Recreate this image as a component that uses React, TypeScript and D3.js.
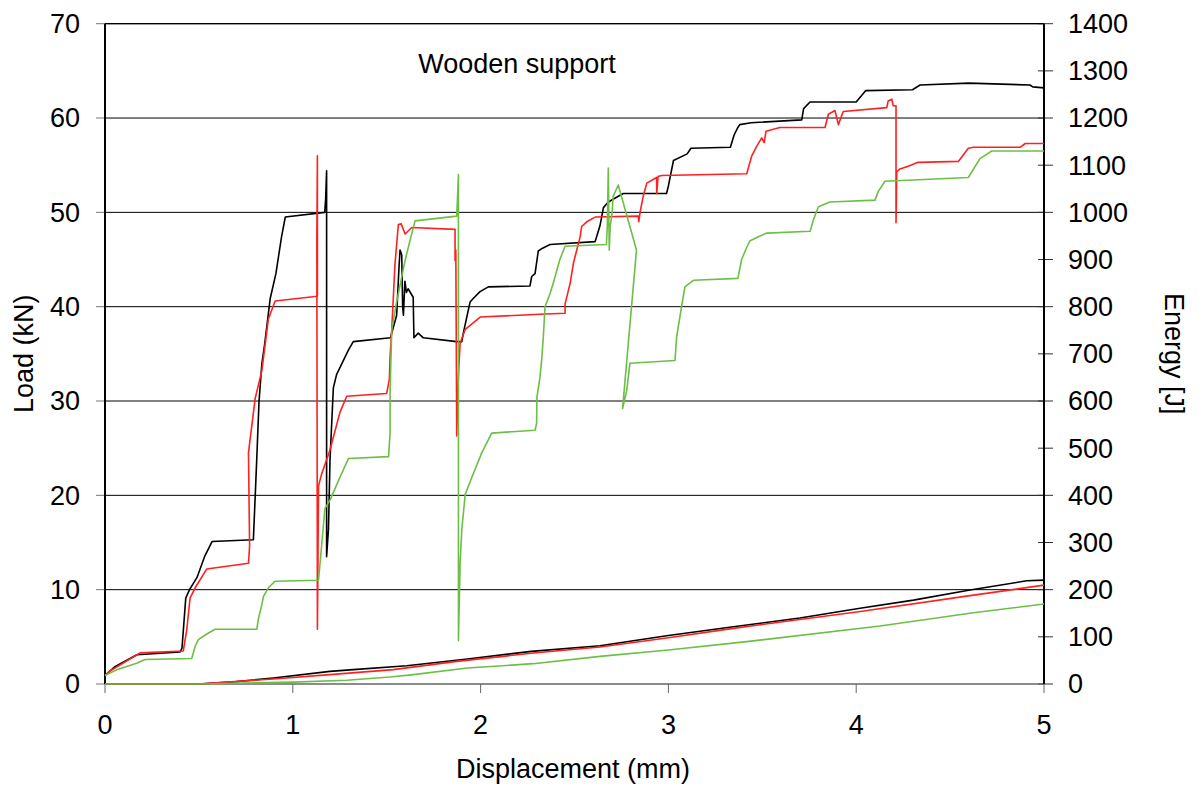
import React, { useRef, useEffect } from 'react';
import * as d3 from 'd3';

type Pt = [number, number];

// displacement (mm), load (kN)
const blackLoad: Pt[] = [
  [0, 0.9], [0.05, 1.8], [0.17, 3.1], [0.4, 3.4], [0.41, 3.8], [0.43, 9.1], [0.45, 10.0], [0.49, 11.3],
  [0.53, 13.5], [0.57, 15.1], [0.79, 15.3], [0.8, 20], [0.81, 24.8], [0.82, 29.9], [0.835, 33.9], [0.85, 36],
  [0.88, 40.9], [0.91, 43.5], [0.94, 47.4], [0.96, 49.5], [1.17, 50.0], [1.175, 51.5], [1.18, 54.4], [1.18, 13.5],
  [1.19, 16.4], [1.198, 23.7], [1.216, 31.4], [1.233, 32.8], [1.26, 33.9], [1.296, 35.4], [1.322, 36.3], [1.52, 36.7],
  [1.553, 39.1], [1.565, 44], [1.571, 46.0], [1.58, 45.5], [1.585, 40], [1.589, 39.1], [1.597, 42.7], [1.605, 41.5],
  [1.614, 41.9], [1.641, 41.0], [1.645, 36.7], [1.668, 37.2], [1.695, 36.7], [1.873, 36.3], [1.9, 36.3], [1.908, 37.2],
  [1.944, 40.5], [1.962, 40.9], [1.997, 41.6], [2.041, 42.1], [2.263, 42.2], [2.272, 43.2], [2.29, 43.5], [2.307, 45.9],
  [2.33, 46.2], [2.37, 46.6], [2.61, 46.9], [2.636, 48.6], [2.654, 50.5], [2.68, 51.1], [2.724, 51.6], [2.76, 52.0],
  [2.99, 52.0], [3.0, 52.8], [3.027, 55.5], [3.1, 56.2], [3.12, 56.8], [3.33, 56.9], [3.35, 58.2], [3.37, 59.0],
  [3.38, 59.3], [3.44, 59.5], [3.71, 59.8], [3.72, 61.0], [3.754, 61.7], [4.0, 61.7], [4.05, 62.9], [4.3, 63.0],
  [4.34, 63.5], [4.6, 63.7], [4.925, 63.5], [4.94, 63.3], [5.0, 63.2],
];

const redLoad: Pt[] = [
  [0, 0.9], [0.02, 1.3], [0.187, 3.3], [0.417, 3.5], [0.435, 5.7], [0.453, 9.1], [0.48, 10.2], [0.542, 12.2],
  [0.764, 12.8], [0.77, 14.6], [0.764, 24.5], [0.77, 25.5], [0.8, 30.3], [0.835, 33.2], [0.87, 38.7], [0.906, 40.6],
  [1.131, 41.1], [1.131, 56], [1.128, 47], [1.131, 5.8], [1.137, 21], [1.154, 22.3], [1.198, 24.8], [1.251, 28.8],
  [1.287, 30.5], [1.5, 30.8], [1.514, 32.3], [1.518, 34.7], [1.527, 37.6], [1.544, 44.5], [1.562, 48.7], [1.577, 48.8],
  [1.598, 47.7], [1.633, 48.4], [1.864, 48.2], [1.864, 44.9], [1.868, 46], [1.873, 26.3], [1.882, 32.8], [1.891, 36.1],
  [1.918, 37.6], [1.998, 38.9], [2.317, 39.2], [2.45, 39.3], [2.45, 40.3], [2.477, 42.5], [2.494, 44.6], [2.53, 47.4],
  [2.538, 48.5], [2.565, 49.0], [2.61, 49.5], [2.84, 49.6], [2.842, 49.0], [2.85, 50.1], [2.866, 51.7], [2.885, 53.1],
  [2.937, 53.7], [2.938, 52], [2.945, 53.8], [2.964, 53.9], [3.417, 54.1], [3.444, 56.0], [3.47, 57.0], [3.497, 57.9],
  [3.51, 57.4], [3.52, 58.6], [3.594, 59.0], [3.834, 59.0], [3.852, 60.4], [3.887, 60.8], [3.905, 59.3], [3.931, 60.7],
  [4.163, 61.1], [4.17, 61.8], [4.19, 62.0], [4.197, 61.3], [4.212, 61.3], [4.212, 48.9], [4.216, 54.3], [4.233, 54.6],
  [4.277, 54.9], [4.33, 55.3], [4.544, 55.4], [4.597, 56.8], [4.624, 56.9], [4.873, 56.9], [4.9, 57.3], [5.0, 57.3],
];

const greenLoad: Pt[] = [
  [0, 0.9], [0.062, 1.5], [0.169, 2.2], [0.213, 2.6], [0.462, 2.7], [0.48, 4.0], [0.497, 4.7], [0.542, 5.3],
  [0.586, 5.8], [0.808, 5.8], [0.817, 6.9], [0.835, 8.4], [0.844, 9.3], [0.87, 10.2], [0.906, 10.9], [1.137, 11.0],
  [1.155, 15.0], [1.171, 18.6], [1.198, 19.5], [1.251, 21.9], [1.296, 23.9], [1.51, 24.1], [1.518, 26.6], [1.518, 31.0],
  [1.527, 37.6], [1.553, 40.5], [1.598, 44.9], [1.625, 47.1], [1.651, 49.1], [1.873, 49.6], [1.882, 54.0], [1.882, 4.6],
  [1.891, 12.8], [1.9, 16.4], [1.918, 20.1], [1.953, 21.9], [2.006, 24.5], [2.059, 26.6], [2.29, 26.9], [2.298, 27.6],
  [2.3, 30.4], [2.316, 32.5], [2.325, 34.3], [2.334, 36.8], [2.343, 40.0], [2.37, 41.4], [2.387, 42.5], [2.422, 45.0],
  [2.45, 46.4], [2.67, 46.6], [2.675, 48.7], [2.68, 54.7], [2.685, 46.0], [2.69, 48.5], [2.7, 49.9], [2.706, 51.7],
  [2.733, 52.9], [2.83, 46.0], [2.756, 29.2], [2.778, 31.1], [2.795, 34.0], [3.035, 34.3], [3.044, 36.8], [3.07, 40.0],
  [3.088, 42.1], [3.133, 42.8], [3.37, 43.0], [3.39, 45.0], [3.417, 46.3], [3.435, 47.0], [3.488, 47.5], [3.524, 47.8],
  [3.755, 48.0], [3.772, 49.2], [3.799, 50.6], [3.86, 51.1], [4.1, 51.3], [4.117, 52.2], [4.153, 53.3], [4.597, 53.7],
  [4.659, 55.7], [4.722, 56.5], [5.0, 56.5],
];

// displacement (mm), energy (J)
const blackEnergy: Pt[] = [
  [0, 0], [0.5, 0], [0.7, 5], [0.896, 12.7], [1.198, 26.8], [1.322, 30.4], [1.607, 38.8], [1.93, 52.9],
  [2.27, 69.2], [2.636, 81.2], [3.0, 103], [3.346, 121.4], [3.7, 140], [4.012, 160.2], [4.305, 177.9],
  [4.606, 199.2], [4.908, 218.9], [5.0, 220.3],
];
const redEnergy: Pt[] = [
  [0, 0], [0.5, 0], [0.896, 10.6], [1.198, 19.8], [1.535, 30.4], [1.873, 48.0], [2.28, 65.6], [2.636, 78.4],
  [3.0, 98], [3.346, 118], [4.012, 153.2], [4.588, 186.4], [5.0, 209.6],
];
const greenEnergy: Pt[] = [
  [0, 0], [0.5, 0], [1.0, 4], [1.287, 7.8], [1.518, 14.8], [1.642, 19.8], [1.93, 33.9], [2.28, 43.1],
  [2.636, 58.6], [3.0, 72], [3.417, 89.8], [4.127, 123], [4.624, 151.2], [5.0, 169.5],
];

const xTicks = [0, 1, 2, 3, 4, 5];
const loadTicks = [0, 10, 20, 30, 40, 50, 60, 70];
const energyTicks = [0, 100, 200, 300, 400, 500, 600, 700, 800, 900, 1000, 1100, 1200, 1300, 1400];

const BLACK = '#000000';
const RED = '#ff2020';
const GREEN = '#6cbf45';
const FONT = '"Liberation Sans", Arial, sans-serif';

export default function App() {
  const ref = useRef<SVGSVGElement>(null);
  const width = 1202;
  const height = 790;

  useEffect(() => {
    if (!ref.current) return;
    const svg = d3.select(ref.current);
    svg.selectAll('*').remove();

    const x = d3.scaleLinear().domain([0, 5]).range([105, 1044]);
    const yL = d3.scaleLinear().domain([0, 70]).range([684, 23.7]);
    const yR = d3.scaleLinear().domain([0, 1400]).range([684, 23.7]);

    svg.append('rect').attr('width', width).attr('height', height).attr('fill', '#fff');

    // gridlines
    svg.append('g')
      .selectAll('line')
      .data(loadTicks.filter(t => t > 0))
      .join('line')
      .attr('x1', x(0)).attr('x2', x(5))
      .attr('y1', d => yL(d)).attr('y2', d => yL(d))
      .attr('stroke', '#000').attr('stroke-width', 1);

    // left ticks + labels
    const left = svg.append('g');
    left.selectAll('line')
      .data(loadTicks)
      .join('line')
      .attr('x1', x(0) - 9).attr('x2', x(0))
      .attr('y1', d => yL(d)).attr('y2', d => yL(d))
      .attr('stroke', '#777').attr('stroke-width', 1);
    left.selectAll('text')
      .data(loadTicks)
      .join('text')
      .attr('x', 80)
      .attr('y', d => yL(d))
      .attr('dy', '0.35em')
      .attr('text-anchor', 'end')
      .style('font-family', FONT).style('font-size', '27px')
      .text(d => d);

    // right ticks + labels
    const right = svg.append('g');
    right.selectAll('line')
      .data(energyTicks)
      .join('line')
      .attr('x1', x(5) - 6).attr('x2', x(5) + 9)
      .attr('y1', d => yR(d)).attr('y2', d => yR(d))
      .attr('stroke', '#333').attr('stroke-width', 1);
    right.selectAll('text')
      .data(energyTicks)
      .join('text')
      .attr('x', 1068)
      .attr('y', d => yR(d))
      .attr('dy', '0.35em')
      .attr('text-anchor', 'start')
      .style('font-family', FONT).style('font-size', '27px')
      .text(d => d);

    // bottom ticks + labels
    const bottom = svg.append('g');
    bottom.selectAll('line')
      .data(xTicks)
      .join('line')
      .attr('x1', d => x(d)).attr('x2', d => x(d))
      .attr('y1', 684).attr('y2', 693)
      .attr('stroke', '#666').attr('stroke-width', 1);
    bottom.selectAll('text')
      .data(xTicks)
      .join('text')
      .attr('x', d => x(d))
      .attr('y', 734)
      .attr('text-anchor', 'middle')
      .style('font-family', FONT).style('font-size', '27px')
      .text(d => d);

    // axis lines / frame
    svg.append('line').attr('x1', x(0)).attr('x2', x(5)).attr('y1', yL(70)).attr('y2', yL(70))
      .attr('stroke', '#000').attr('stroke-width', 1.2);
    svg.append('line').attr('x1', x(0)).attr('x2', x(5)).attr('y1', yL(0)).attr('y2', yL(0))
      .attr('stroke', '#666').attr('stroke-width', 1.5);
    svg.append('line').attr('x1', x(0)).attr('x2', x(0)).attr('y1', yL(0)).attr('y2', yL(70))
      .attr('stroke', '#000').attr('stroke-width', 2);
    svg.append('line').attr('x1', x(5)).attr('x2', x(5)).attr('y1', yL(0)).attr('y2', yL(70))
      .attr('stroke', '#000').attr('stroke-width', 2);

    const loadLine = d3.line<Pt>().x(d => x(d[0])).y(d => yL(d[1]));
    const energyLine = d3.line<Pt>().x(d => x(d[0])).y(d => yR(d[1]));

    const series = [
      { data: blackEnergy, line: energyLine, color: BLACK },
      { data: redEnergy, line: energyLine, color: RED },
      { data: greenEnergy, line: energyLine, color: GREEN },
      { data: blackLoad, line: loadLine, color: BLACK },
      { data: redLoad, line: loadLine, color: RED },
      { data: greenLoad, line: loadLine, color: GREEN },
    ];
    svg.append('g')
      .selectAll('path')
      .data(series)
      .join('path')
      .attr('d', d => d.line(d.data))
      .attr('fill', 'none')
      .attr('stroke', d => d.color)
      .attr('stroke-width', 1.6)
      .attr('stroke-linejoin', 'round');

    // titles
    svg.append('text')
      .attr('x', 517).attr('y', 73)
      .attr('text-anchor', 'middle')
      .style('font-family', FONT).style('font-size', '27px')
      .text('Wooden support');
    svg.append('text')
      .attr('x', 573).attr('y', 778)
      .attr('text-anchor', 'middle')
      .style('font-family', FONT).style('font-size', '27px')
      .text('Displacement (mm)');
    svg.append('text')
      .attr('transform', `translate(33, ${(yL(0) + yL(70)) / 2}) rotate(-90)`)
      .attr('text-anchor', 'middle')
      .style('font-family', FONT).style('font-size', '27px')
      .text('Load (kN)');
    svg.append('text')
      .attr('transform', `translate(1165, ${(yL(0) + yL(70)) / 2}) rotate(90)`)
      .attr('text-anchor', 'middle')
      .style('font-family', FONT).style('font-size', '27px')
      .text('Energy [J]');
  }, []);

  return (
    <svg
      ref={ref}
      width={width}
      height={height}
      style={{ position: 'absolute', left: 0, top: 0, display: 'block' }}
    />
  );
}
